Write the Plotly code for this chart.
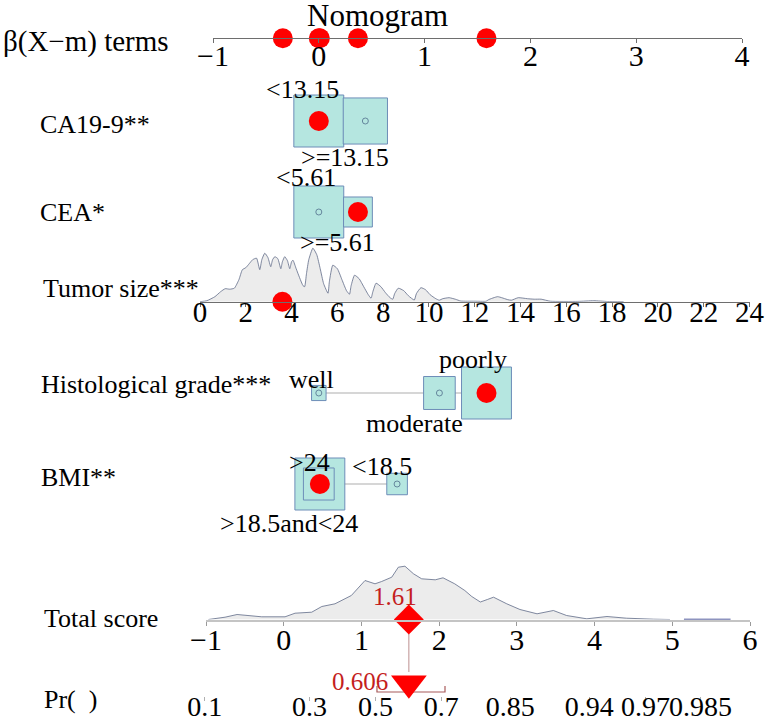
import numpy as np
import plotly.graph_objects as go

# ---- data ----
beta_ticks = [-1, 0, 1, 2, 3, 4]

ca_levels = ["<13.15", ">=13.15"]
ca_beta = [0.0, 0.44]
ca_freq = [0.56, 0.44]

cea_levels = ["<5.61", ">=5.61"]
cea_beta = [0.0, 0.37]
cea_freq = [0.75, 0.25]

grade_levels = ["well", "moderate", "poorly"]
grade_beta = [0.0, 1.14, 1.585]
grade_freq = [0.057, 0.27, 0.673]

bmi_levels = [">18.5and<24", ">24", "<18.5"]
bmi_beta = [0.01, 0.0, 0.74]
bmi_freq = [0.645, 0.245, 0.11]

# tumor size density (cm, relative density)
tumor_x = [0.0, 0.3, 0.65, 0.9, 1.1, 1.3, 1.5, 1.7, 1.85, 2.0, 2.15, 2.3, 2.47, 2.61, 2.7, 2.83,
           2.97, 3.09, 3.17, 3.27, 3.4, 3.53, 3.6, 3.7, 3.82, 3.92, 4.0, 4.06, 4.2, 4.35, 4.5,
           4.57, 4.65, 4.75, 4.93, 5.1, 5.25, 5.4, 5.59, 5.65, 5.8, 6.0, 6.2, 6.4, 6.53, 6.6,
           6.75, 6.95, 7.15, 7.35, 7.47, 7.55, 7.69, 7.9, 8.1, 8.3, 8.42, 8.5, 8.66, 8.9, 9.1,
           9.36, 9.45, 9.65, 9.85, 10.05, 10.3, 10.45, 10.6, 10.88, 11.15, 11.39, 12.0, 12.5,
           12.6, 13.0, 13.45, 13.6, 13.9, 14.3, 14.6, 14.9, 15.3, 16.5, 17.2, 17.8, 18.5]
tumor_d = [0, 1, 5, 10, 13, 12.5, 13.5, 22, 32, 34, 38, 42, 43.5, 32, 42, 48.5,
           44, 35, 42, 45, 43, 33, 40, 45, 41, 33, 40, 41.5, 33, 24, 16,
           15, 28, 42, 53.5, 47, 33, 18, 8.5, 20, 36.5, 33, 22, 11, 7.5, 16,
           26.5, 23, 15, 7, 3.5, 10, 18.5, 15, 9, 4, 2.5, 8, 13.5, 11, 6,
           1.7, 8, 14, 12, 7, 3, 1.5, 3, 4, 2.5, 0.7, 0.5, 0.5,
           2, 5, 2, 1.5, 4, 3, 2.5, 2.5, 0.5, 0.3, 1, 0.2, 0]

# total score density
score_x = [-0.97, -0.85, -0.755, -0.6, -0.45, -0.283, 0.017, 0.146, 0.36, 0.49, 0.66, 0.87,
           1.046, 1.175, 1.26, 1.39, 1.475, 1.56, 1.67, 1.775, 1.95, 2.05, 2.2, 2.33, 2.42,
           2.53, 2.62, 2.7, 2.87, 3.04, 3.26, 3.47, 3.64, 3.9, 4.16, 4.41, 4.76, 4.97]
score_d = [0, 1, 2.3, 5, 4, 2.7, 2.7, 6.3, 7.3, 13, 15.7, 24,
           39, 35.7, 38, 42.3, 52.3, 53.3, 45.7, 40.7, 39.7, 41.7, 35.7, 29, 23,
           17.5, 20, 22.3, 15.7, 10, 5.7, 9, 4, 0.7, 3, 1.3, 0.3, 0]
score_tail = [5.15, 5.75]

# the patient shown
obs_ca, obs_cea, obs_grade, obs_bmi = "<13.15", ">=5.61", "poorly", ">18.5and<24"
obs_tumor = 3.6
tumor_term = -0.34
total_score = 1.61
pr_value = 0.606
pr_ci = [0.505, 0.71]
logit_offset = 1.18
pr_ticks = [0.1, 0.3, 0.5, 0.7, 0.85, 0.94, 0.97, 0.985]
pr_labels = ["0.1", "0.3", "0.5", "0.7", "0.85", "0.94", "0.97", "0.985"]

# ---- layout helpers ----
W, H = 765, 721
FONT = "'Liberation Serif', 'Times New Roman', serif"
RED = "#ff0000"
BOX_FILL = "#b5e6e0"
BOX_LINE = "#6d8db8"


def px(p):
    return p / W


def py(p):
    return 1 - p / H


def score_of(p):
    p = np.asarray(p, dtype=float)
    return np.log(p / (1 - p)) + logit_offset


fig = go.Figure()
shapes = []
annotations = []

# categorical rows: (label, levels, beta, freq, chosen, row y, label offsets)
cat_rows = [
    ("CA19-9**", ca_levels, ca_beta, ca_freq, obs_ca, 121,
     [(-16, -32), (-20, 36)]),
    ("CEA*", cea_levels, cea_beta, cea_freq, obs_cea, 212,
     [(-13, -35), (-20, 30)]),
    ("Histological grade***", grade_levels, grade_beta, grade_freq, obs_grade, 393,
     [(-7, -14), (-25, 30), (-13, -34)]),
    ("BMI**", bmi_levels, bmi_beta, bmi_freq, obs_bmi, 484,
     [(-31, 39), (-9, -22), (-15, -18)]),
]
BOX_MAX = 52

top_terms = [tumor_term]
for name, levels, beta, freq, chosen, ry, offs in cat_rows:
    shapes.append(dict(type="line", xref="x", yref="y", x0=min(beta), x1=max(beta),
                       y0=ry, y1=ry, line=dict(color="#d6d6d6", width=2), layer="below"))
    fmax = max(freq)
    order = np.argsort(freq)[::-1]
    for i in order:
        s = BOX_MAX * np.sqrt(freq[i] / fmax)
        shapes.append(dict(type="rect", xref="x", yref="y", xsizemode="pixel",
                           xanchor=beta[i], x0=-s * 0.48, x1=s * 0.48,
                           y0=ry - s / 2, y1=ry + s / 2,
                           fillcolor=BOX_FILL, line=dict(color=BOX_LINE, width=1),
                           layer="below"))
    for i, lev in enumerate(levels):
        dx, dy = offs[i]
        annotations.append(dict(xref="x", yref="y", x=beta[i], y=ry + dy, xshift=dx,
                                text=lev.replace("<", "&lt;").replace(">", "&gt;"),
                                showarrow=False, font=dict(family=FONT, size=26, color="black")))
    others = [b for b, lev in zip(beta, levels) if lev != chosen]
    fig.add_trace(go.Scatter(x=others, y=[ry] * len(others), mode="markers",
                             marker=dict(symbol="circle-open", size=6, color="#506e8c",
                                         line=dict(width=0.8)),
                             hoverinfo="skip", showlegend=False, cliponaxis=False))
    sel = beta[levels.index(chosen)]
    top_terms.append(sel)
    fig.add_trace(go.Scatter(x=[sel], y=[ry], mode="markers",
                             marker=dict(color=RED, size=20), hoverinfo="skip",
                             showlegend=False, cliponaxis=False))

# dots on beta axis
fig.add_trace(go.Scatter(x=top_terms, y=[38.3] * len(top_terms), mode="markers",
                         marker=dict(color=RED, size=20), showlegend=False,
                         hoverinfo="skip", cliponaxis=False))

# tumor size density + dot
fig.add_trace(go.Scatter(x=tumor_x, y=tumor_d, xaxis="x2", yaxis="y2", mode="lines",
                         line=dict(color="#5f6b88", width=0.8, shape="spline", smoothing=0.5),
                         fill="tozeroy", fillcolor="#ececec", showlegend=False,
                         hoverinfo="skip"))
fig.add_trace(go.Scatter(x=[obs_tumor], y=[0], xaxis="x2", yaxis="y2", mode="markers",
                         marker=dict(color=RED, size=20), showlegend=False,
                         hoverinfo="skip", cliponaxis=False))

# total score density
fig.add_trace(go.Scatter(x=score_x, y=score_d, xaxis="x3", yaxis="y3", mode="lines",
                         line=dict(color="#5f6b88", width=0.8),
                         fill="tozeroy", fillcolor="#ececec", showlegend=False,
                         hoverinfo="skip"))
fig.add_trace(go.Scatter(x=score_tail, y=[0, 0], xaxis="x3", yaxis="y3", mode="lines",
                         line=dict(color="#1f2a80", width=1.5), showlegend=False,
                         hoverinfo="skip", cliponaxis=False))
fig.add_trace(go.Scatter(x=[total_score], y=[0], xaxis="x3", yaxis="y3", mode="markers",
                         marker=dict(color=RED, symbol="diamond", size=23),
                         showlegend=False, hoverinfo="skip", cliponaxis=False))

# probability row
ci = score_of(pr_ci)
fig.add_trace(go.Scatter(x=[ci[0], ci[0], ci[1], ci[1]], y=[6, 0, 0, 6],
                         xaxis="x4", yaxis="y4", mode="lines",
                         line=dict(color="#a85a5a", width=1.2), showlegend=False,
                         hoverinfo="skip", cliponaxis=False))
fig.add_trace(go.Scatter(x=[float(score_of(pr_value))], y=[8.7], xaxis="x4", yaxis="y4",
                         mode="markers",
                         marker=dict(color=RED, symbol="triangle-down", size=31),
                         showlegend=False, hoverinfo="skip", cliponaxis=False))
shapes.append(dict(type="line", xref="x3", yref="paper", x0=total_score, x1=total_score,
                   y0=py(634), y1=py(672), line=dict(color="#c8a2a2", width=1.2),
                   layer="below"))

annotations.append(dict(xref="x3", yref="y3", x=total_score, y=0, xshift=-14, yshift=23.5,
                        text=f"{total_score:.2f}", showarrow=False,
                        font=dict(family=FONT, size=25, color="#c41e1e")))
annotations.append(dict(xref="x4", yref="y4", x=float(score_of(pr_value)), y=0,
                        xshift=-49, yshift=10.5, text=f"{pr_value:.3f}", showarrow=False,
                        font=dict(family=FONT, size=25, color="#c41e1e")))

# row labels
row_labels = [("β(X−m) terms", 1, 42, 29), ("CA19-9**", 38, 124, 26), ("CEA*", 38, 212, 26),
              ("Tumor size***", 41, 288, 26), ("Histological grade***", 39, 384, 26),
              ("BMI**", 39, 477, 26), ("Total score", 42, 618, 26),
              ("Pr(\u00a0\u00a0)", 42, 699, 26)]
for txt, lx, ly, fs in row_labels:
    annotations.append(dict(xref="paper", yref="paper", x=px(lx), y=py(ly), text=txt,
                            xanchor="left", yanchor="middle", showarrow=False,
                            font=dict(family=FONT, size=fs, color="black")))
annotations.append(dict(xref="paper", yref="paper", x=px(377), y=py(16), text="Nomogram",
                        showarrow=False, xanchor="center", yanchor="middle",
                        font=dict(family=FONT, size=31, color="black")))


def tfont(size):
    return dict(family=FONT, size=size, color="black")


axis_common = dict(showgrid=False, zeroline=False, fixedrange=True,
                   ticks="outside", ticklen=4, automargin=False, tickangle=0,
                   ticklabeloverflow="allow")

fig.update_layout(
    template="none",
    width=W, height=H,
    margin=dict(l=0, r=0, t=0, b=0, pad=0),
    paper_bgcolor="white", plot_bgcolor="rgba(0,0,0,0)",
    showlegend=False,
    font=dict(family=FONT),
    xaxis=dict(domain=[px(213), px(742)], range=[-1, 4], anchor="free", position=py(38.3),
               tickvals=beta_ticks, showline=True, linecolor="#6e6e6e", linewidth=1,
               tickcolor="#6e6e6e", ticklabelstandoff=-13, tickfont=tfont(30), **axis_common),
    yaxis=dict(domain=[0, 1], range=[H, 0], visible=False, fixedrange=True, automargin=False),
    xaxis2=dict(domain=[px(200), px(749.5)], range=[0, 24], anchor="y2", dtick=2,
                showline=True, linecolor="#6e6e6e", linewidth=1, tickcolor="#6e6e6e",
                ticklabelstandoff=-20, tickfont=tfont(29), **axis_common),
    yaxis2=dict(domain=[py(301.7), py(229.7)], range=[0, 72], visible=False,
                fixedrange=True, automargin=False),
    xaxis3=dict(domain=[px(206), px(750)], range=[-1, 6], anchor="y3", dtick=1,
                showline=True, linecolor="#c4c4c4", linewidth=2, tickcolor="#9a9a9a",
                ticklabelstandoff=-12, tickfont=tfont(30), **axis_common),
    yaxis3=dict(domain=[py(619.5), py(555)], range=[0, 64.5], visible=False,
                fixedrange=True, automargin=False),
    xaxis4=dict(domain=[px(206 - 0.1 * 77.7), px(750)], range=[-1.1, 6], anchor="y4",
                tickvals=list(score_of(pr_ticks)), ticktext=pr_labels,
                showline=False, tickcolor="#b0b0b0", ticklabelstandoff=-19,
                tickfont=tfont(28), **axis_common),
    yaxis4=dict(domain=[py(696), py(664)], range=[-4, 28], visible=False,
                fixedrange=True, automargin=False),
    shapes=shapes,
    annotations=annotations,
)

fig.write_html("out.html", config={"displayModeBar": False},
               post_script="document.body.style.margin = '0px';")
